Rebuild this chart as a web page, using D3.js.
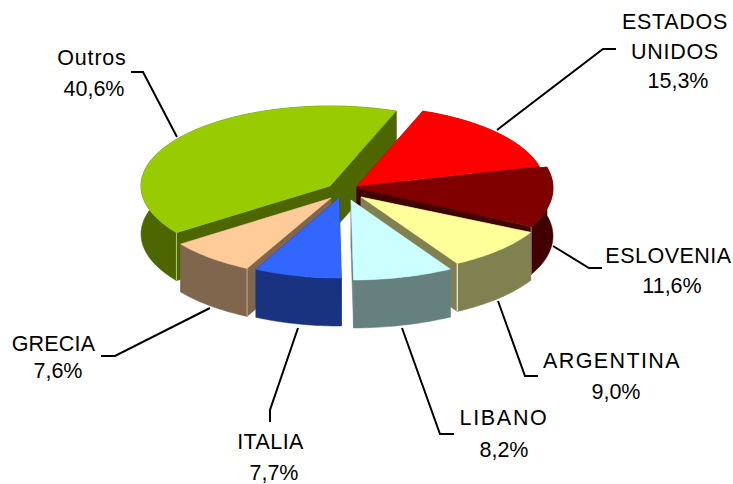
<!DOCTYPE html>
<html><head><meta charset="utf-8">
<script src="https://cdn.jsdelivr.net/npm/d3@7/dist/d3.min.js"></script>
<style>html,body{margin:0;padding:0;background:#fff}svg{display:block}</style>
</head><body><svg id="c" width="733" height="484"></svg>
<script>
const names = ["ESTADOS UNIDOS","ESLOVENIA","ARGENTINA","LIBANO","ITALIA","GRECIA","Outros"];
const values = [15.3,11.6,9.0,8.2,7.7,7.6,40.6];
const topColors = ["#FF0000","#800000","#FFFF99","#CCFFFF","#3366FF","#FFCC99","#99CC00"];
const sideColors = ["#800000","#400000","#808050","#668080","#1A3380","#80664D","#4D6600"];
const edgeColors = [null,"#C08080","#FFFFFF",null,null,"#C8B090","#B0C880"];
// layout: per-slice centre and ellipse radii, painter order
const centerX = [357,357,361,351,339,331,330];
const centerY = [186,188,197,200,198,198,186];
const radX = [188,196,191,197,183,185,189];
const radY = [80,84,77,80,80,79,80];
const depth = 48;
const drawOrder = [6,0,1,5,2,3,4];
const labelX = [675,668.5,612,504,270.5,53.5,92];
const percentX = [678,672,616,504,274,58,94];
const spacing = [0.7,0.5,1.4,1.7,0.4,0.2,0.8];
const labelY = [[29,59,88],[263,293],[368,399],[425,457],[449,480],[351,378],[65,96]];
const leaders = [
  [[497,130],[603,49],[616,49]],
  [[553,246],[589,268],[602,268]],
  [[498,301],[525,376],[538,376]],
  [[402,328],[440,434],[454,434]],
  [[298,328],[270,410],[270,422]],
  [[210,308],[115,356],[101,356]],
  [[177,137],[143,72],[131,72]]
];
const startDeg = 20.5;

const svg = d3.select("#c");
const pie = d3.pie().sort(null).startAngle(startDeg*Math.PI/180).endAngle(startDeg*Math.PI/180+2*Math.PI);
const arcs = pie(values);
const line = d3.line();
const pt = (i,a,dz=0)=>[centerX[i]+radX[i]*Math.sin(a), centerY[i]-radY[i]*Math.cos(a)+dz];
const rim = (i,dz=0)=>{
  const a=arcs[i], n=Math.ceil((a.endAngle-a.startAngle)/0.02);
  return d3.range(n+1).map(k=>pt(i,a.startAngle+(a.endAngle-a.startAngle)*k/n,dz));
};
const g = svg.append("g");
drawOrder.forEach(i=>{
  const a=arcs[i], c=[centerX[i],centerY[i]], cd=[c[0],c[1]+depth];
  const r=rim(i), rd=rim(i,depth);
  const side=g.append("g").attr("fill",sideColors[i]).attr("stroke",sideColors[i]).attr("stroke-width",0.5);
  side.append("path").attr("d",line([c,r[0],rd[0],cd])+"Z");
  side.append("path").attr("d",line([c,r[r.length-1],rd[rd.length-1],cd])+"Z");
  side.append("path").attr("d",line(r.concat(rd.slice().reverse()))+"Z");
  if(edgeColors[i]){
    const p = Math.sin(a.endAngle)>0 && i<4 ? r[r.length-1] : r[0];
    g.append("line").attr("x1",p[0]).attr("y1",p[1]).attr("x2",p[0]).attr("y2",p[1]+depth).attr("stroke",edgeColors[i]).attr("stroke-width",1);
  }
  g.append("path").attr("d",line([c].concat(r))+"Z").attr("fill",topColors[i]).attr("stroke",topColors[i]).attr("stroke-width",0.5);
});
const lg = svg.append("g").attr("fill","none").attr("stroke","#000").attr("stroke-width",2);
leaders.forEach(l=>lg.append("path").attr("d",line(l)));
const fmt = v=>v.toFixed(1).replace(".",",")+"%";
const tg = svg.append("g").attr("font-family","'Liberation Sans',Arial,sans-serif").attr("font-size",21.5).attr("fill","#000").attr("text-anchor","middle");
names.forEach((n,i)=>{
  const parts = n.split(" ");
  parts.forEach((t,k)=>tg.append("text").attr("x",labelX[i]).attr("y",labelY[i][k]).attr("letter-spacing",spacing[i]).text(t));
  tg.append("text").attr("x",percentX[i]).attr("y",labelY[i][parts.length]).text(fmt(values[i]));
});
</script></body></html>
